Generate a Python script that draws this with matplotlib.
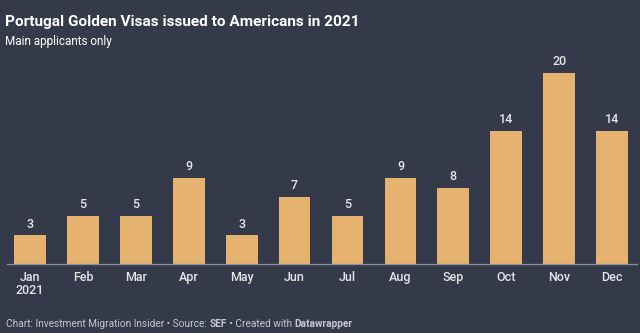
import matplotlib
matplotlib.use("Agg")
import matplotlib.pyplot as plt

months = ["Jan\n2021", "Feb", "Mar", "Apr", "May", "Jun",
          "Jul", "Aug", "Sep", "Oct", "Nov", "Dec"]
visas = [3, 5, 5, 9, 3, 7, 5, 9, 8, 14, 20, 14]

bg = "#343a4a"
bar_color = "#e6b26f"
plt.rcParams["font.family"] = ["Roboto", "DejaVu Sans"]

fig = plt.figure(figsize=(6.4, 3.33), dpi=100, facecolor=bg)
ax = fig.add_axes([7 / 640, 69 / 333, 630 / 640, 205 / 333], facecolor=bg)

x = range(len(visas))
bars = ax.bar(x, visas, width=0.6, color=bar_color, zorder=2)
for b, v in zip(bars, visas):
    ax.annotate(str(v), (b.get_x() + b.get_width() / 2, v), xytext=(0, 3.5),
                textcoords="offset points", ha="center", va="bottom",
                color="#e4e6ea", fontsize=9, fontweight="medium")

ax.set_xlim(-0.435, 11.47)
ax.set_ylim(0, 21.5)
ax.set_xticks(list(x))
ax.set_xticklabels(months, color="#e4e6ea", fontsize=9, linespacing=1.05,
                   fontweight="medium")
ax.tick_params(axis="x", length=0, pad=5)
ax.set_yticks([])
for side in ["top", "left", "right"]:
    ax.spines[side].set_visible(False)
ax.spines["bottom"].set_color("#8a909c")
ax.spines["bottom"].set_linewidth(0.9)

fig.text(5 / 640, 1 - 22 / 333, "Portugal Golden Visas issued to Americans in 2021",
         color="white", fontsize=11.1, fontweight="bold", va="center")
fig.text(5 / 640, 1 - 42 / 333, "Main applicants only",
         color="white", fontsize=8.5, va="center")

# footer with bold parts, laid out piece by piece
pieces = [("Chart: Investment Migration Insider \u2022 Source: ", "normal"),
          ("SEF", "bold"),
          (" \u2022 Created with ", "normal"),
          ("Datawrapper", "bold")]
fig.canvas.draw()
renderer = fig.canvas.get_renderer()
xpos = 6
for txt, w in pieces:
    t = fig.text(xpos / 640, 1 - 324 / 333, txt, color="#c4c8d0",
                 fontsize=7.3, fontweight=w, va="center")
    xpos += t.get_window_extent(renderer).width

fig.savefig("out.png", dpi=100, facecolor=bg)
